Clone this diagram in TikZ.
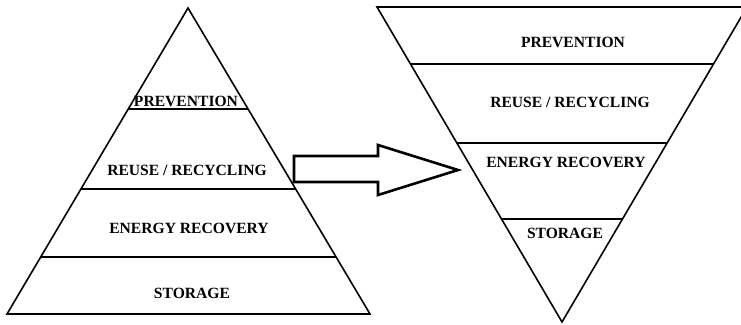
\documentclass[tikz,border=0pt]{standalone}
\usepackage{fontspec}
\setmainfont{Liberation Serif}
\usetikzlibrary{calc}
\tikzset{
  % Tier label: bold serif capitals
  tierlabel/.style={font=\bfseries\fontsize{15.6}{18}\selectfont, inner sep=0pt, anchor=base},
  % Pyramid outline and tier dividers
  pyrline/.style={line width=1.6pt, line join=miter},
  tierline/.style={line width=1.6pt},
  % Block arrow between the two pyramids
  blockarr/.style={line width=2.6pt, line join=miter}
}

\begin{document}
\begin{tikzpicture}[x=1pt, y=-1pt]
\clip (0,0) rectangle (741,324);

% Left pyramid
\coordinate (la) at (188,8);
\coordinate (lbl) at (7,314);
\coordinate (lbr) at (370,314);
\draw[pyrline] (la) -- (lbl) -- (lbr) -- cycle;
\foreach \t in {0.330, 0.5915, 0.8137}
  \draw[tierline] ($(la)!\t!(lbl)$) -- ($(la)!\t!(lbr)$);

\node[tierlabel] (lprev) at (186,106) {PREVENTION};
\node[tierlabel] (lreuse) at (187,175) {REUSE / RECYCLING};
\node[tierlabel] (lenergy) at (189,233) {ENERGY RECOVERY};
\node[tierlabel] (lstore) at (192,298) {STORAGE};

% Right pyramid, upside down
\coordinate (rtl) at (377,7);
\coordinate (rtr) at (747,7);
\coordinate (rv) at (562,322);
\draw[pyrline] (rtl) -- (rtr) -- (rv) -- cycle;
\foreach \t in {0.181, 0.4317, 0.673}
  \draw[tierline] ($(rtl)!\t!(rv)$) -- ($(rtr)!\t!(rv)$);

\node[tierlabel] (rprev) at (573,47) {PREVENTION};
\node[tierlabel] (rreuse) at (570,107) {REUSE / RECYCLING};
\node[tierlabel] (renergy) at (566,167) {ENERGY RECOVERY};
\node[tierlabel] (rstore) at (565,238) {STORAGE};

% Block arrow
\coordinate (tail) at (294,169);
\coordinate (tip) at (458,170);
\draw[blockarr] ($(tail)+(0,-13)$) -- ++(84,0) -- ++(0,-11) -- (tip)
  -- ($(tail)+(84,26)$) -- ++(0,-13) -- ++(-84,0) -- cycle;

\end{tikzpicture}
\end{document}
